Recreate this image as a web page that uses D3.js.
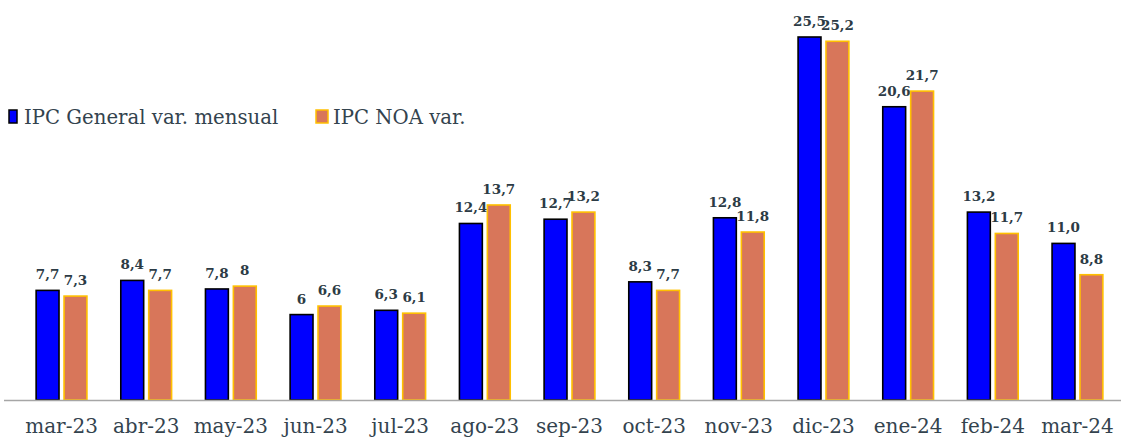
<!DOCTYPE html>
<html>
<head>
<meta charset="utf-8">
<script src="https://cdn.jsdelivr.net/npm/d3@7"></script>
<style>
  html, body { margin: 0; padding: 0; background: #fff; }
  svg { display: block; }
</style>
</head>
<body>
<svg id="chart" width="1121" height="439"></svg>
<script>
// Monthly CPI variation: national general index vs. NOA region
const months = ["mar-23", "abr-23", "may-23", "jun-23", "jul-23", "ago-23", "sep-23",
                "oct-23", "nov-23", "dic-23", "ene-24", "feb-24", "mar-24"];
const seriesNames = ["IPC General var. mensual", "IPC NOA var."];
const generalValues = [7.7, 8.4, 7.8, 6.0, 6.3, 12.4, 12.7, 8.3, 12.8, 25.5, 20.6, 13.2, 11.0];
const noaValues = [7.3, 7.7, 8.0, 6.6, 6.1, 13.7, 13.2, 7.7, 11.8, 25.2, 21.7, 11.7, 8.8];
const generalLabels = ["7,7", "8,4", "7,8", "6", "6,3", "12,4", "12,7", "8,3", "12,8", "25,5", "20,6", "13,2", "11,0"];
const noaLabels = ["7,3", "7,7", "8", "6,6", "6,1", "13,7", "13,2", "7,7", "11,8", "25,2", "21,7", "11,7", "8,8"];

const series = [
  { name: seriesNames[0], values: generalValues, labels: generalLabels, fill: "#0000ff", stroke: "#000000" },
  { name: seriesNames[1], values: noaValues, labels: noaLabels, fill: "#d8765a", stroke: "#ffc000" }
];

const svg = d3.select("#chart");
const textColor = "#33434e";
const serif = "'DejaVu Serif', Georgia, serif";

const baseY = 400;
const y = d3.scaleLinear().domain([0, 25.5]).range([baseY, 37]);
const x0 = d3.scaleBand().domain(months).range([19.2, 1119.8]).paddingInner(0.4).paddingOuter(0.2);
const x1 = d3.scaleBand().domain([0, 1]).range([0, x0.bandwidth()]).paddingInner(0.18);

// bars with value labels
series.forEach((s, si) => {
  const g = svg.append("g");
  g.selectAll("rect")
    .data(s.values)
    .join("rect")
    .attr("x", (d, i) => x0(months[i]) + x1(si))
    .attr("y", d => y(d))
    .attr("width", x1.bandwidth())
    .attr("height", d => baseY - y(d))
    .attr("fill", s.fill)
    .attr("stroke", s.stroke)
    .attr("stroke-width", 1.6);

  g.selectAll("text")
    .data(s.values)
    .join("text")
    .attr("x", (d, i) => x0(months[i]) + x1(si) + x1.bandwidth() / 2)
    .attr("y", d => y(d) - 11)
    .attr("text-anchor", "middle")
    .attr("font-family", serif)
    .attr("font-weight", "bold")
    .attr("font-size", 13.5)
    .attr("fill", "#2c3b45")
    .text((d, i) => s.labels[i]);
});

// category axis
const xAxis = d3.axisBottom(x0).tickSize(0).tickPadding(19);
const axisG = svg.append("g").attr("transform", `translate(0,${baseY})`).call(xAxis);
axisG.select(".domain").attr("d", "M4,0.5H1121").attr("stroke", "#a6a6a6").attr("stroke-width", 1.5);
axisG.selectAll("text")
  .attr("font-family", serif)
  .attr("font-size", 20)
  .attr("fill", textColor);

// legend
const legendItems = [
  { x: 9, w: 8, textX: 24 },
  { x: 316, w: 12, textX: 333 }
];
series.forEach((s, si) => {
  const L = legendItems[si];
  svg.append("rect")
    .attr("x", L.x).attr("y", 110)
    .attr("width", L.w).attr("height", 13)
    .attr("fill", s.fill)
    .attr("stroke", s.stroke)
    .attr("stroke-width", 1.5);
  svg.append("text")
    .attr("x", L.textX)
    .attr("y", 124)
    .attr("font-family", serif)
    .attr("font-size", 19.7)
    .attr("fill", textColor)
    .text(s.name);
});
</script>
</body>
</html>
